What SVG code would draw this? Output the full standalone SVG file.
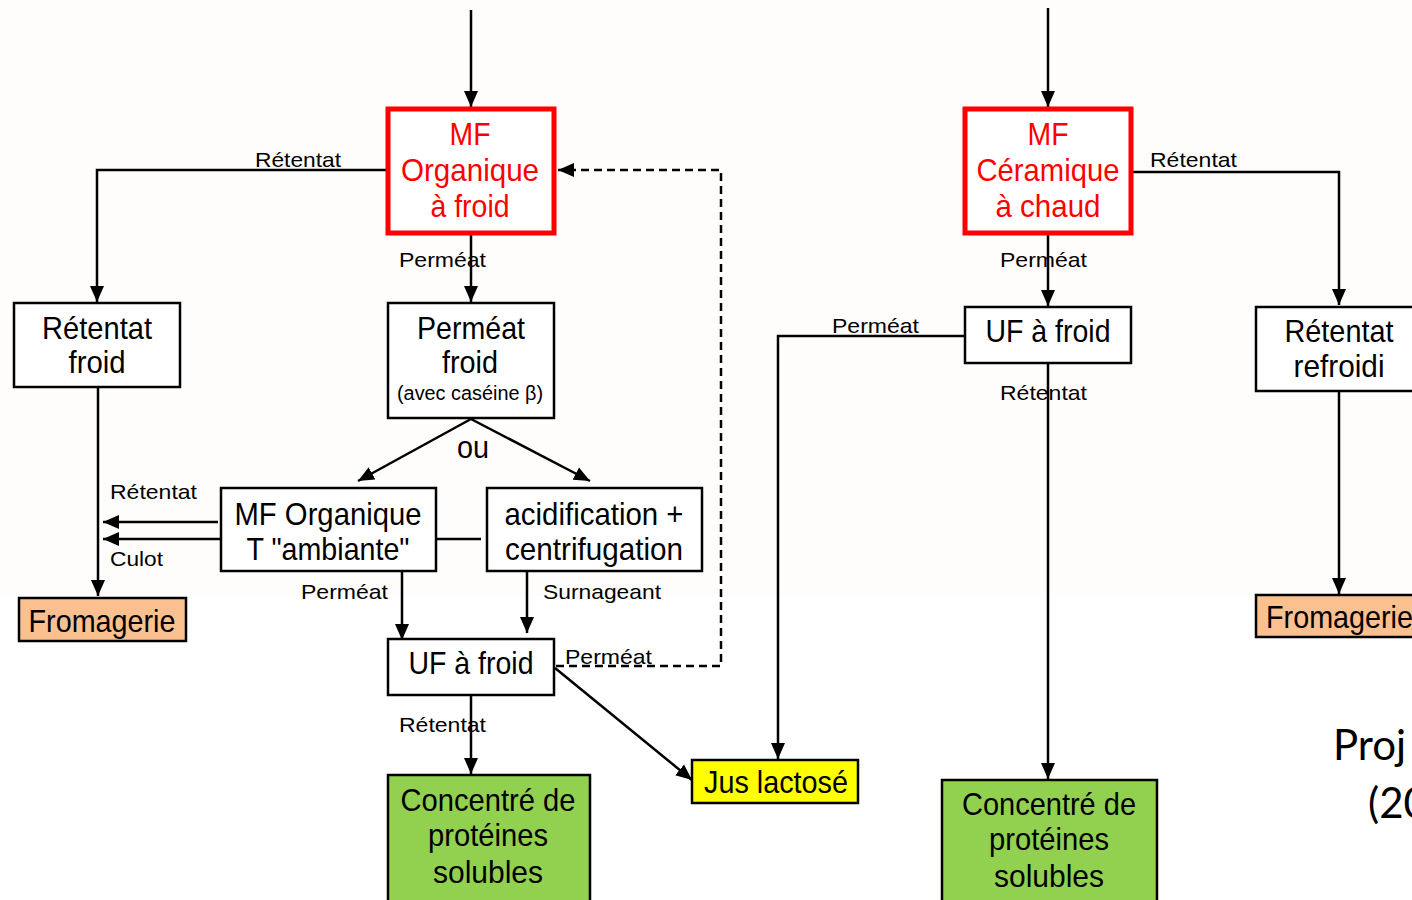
<svg xmlns="http://www.w3.org/2000/svg" width="1412" height="900" viewBox="0 0 1412 900">
  <style>
    .box { fill: #ffffff; stroke: #000000; stroke-width: 2.5; }
    .mf { fill: #ffffff; stroke: #ff0000; stroke-width: 5; }
    .fromage { fill: #fac090; stroke: #000000; stroke-width: 2.5; }
    .conc { fill: #92d050; stroke: #000000; stroke-width: 2.5; }
    .jus { fill: #ffff00; stroke: #000000; stroke-width: 2.5; }
    .big { font-family: "Liberation Sans", Arial, sans-serif; font-size: 32px; fill: #000000; text-anchor: middle; }
    .red { fill: #ff0000; }
    .small { font-family: "Liberation Sans", Arial, sans-serif; font-size: 21px; fill: #000000; }
    .note { font-family: "Liberation Sans", Arial, sans-serif; font-size: 20px; fill: #000000; text-anchor: middle; }
    .title { font-family: Lato, "Open Sans", sans-serif; font-size: 42px; fill: #000000; }
    .flow { fill: none; stroke: #000000; stroke-width: 2.5; }
    .arrow { marker-end: url(#head); }
    .dash { stroke-dasharray: 8 5; }
  </style>
  <defs>
    <marker id="head" viewBox="0 0 16 14" refX="16" refY="7" markerWidth="16" markerHeight="15" markerUnits="userSpaceOnUse" orient="auto">
      <path d="M0,0 L16,7 L0,14 z" fill="#000000"/>
    </marker>
  </defs>

  <!-- faint upper background band -->
  <rect x="0" y="0" width="1412" height="596" fill="#fefdfb"/>

  <!-- connectors -->
  <g id="connectors">
    <!-- left process -->
    <line class="flow arrow" x1="471" y1="10" x2="471" y2="107"/>
    <polyline class="flow arrow" points="387,170 97,170 97,302"/>
    <line class="flow arrow" x1="471" y1="234" x2="471" y2="302"/>
    <line class="flow arrow" x1="471" y1="419" x2="358" y2="481"/>
    <line class="flow arrow" x1="471" y1="419" x2="590" y2="481"/>
    <line class="flow arrow" x1="98" y1="387" x2="98" y2="596"/>
    <line class="flow arrow" x1="218" y1="522" x2="103" y2="522"/>
    <line class="flow arrow" x1="221" y1="539" x2="103" y2="539"/>
    <line class="flow" x1="437" y1="539" x2="481" y2="539"/>
    <line class="flow arrow" x1="402" y1="571" x2="402" y2="640"/>
    <line class="flow arrow" x1="527" y1="571" x2="527" y2="633"/>
    <polyline class="flow dash arrow" points="556,666 721,666 721,170 558,170"/>
    <line class="flow arrow" x1="555" y1="668" x2="692" y2="780"/>
    <line class="flow arrow" x1="471" y1="695" x2="471" y2="774"/>

    <!-- right process -->
    <line class="flow arrow" x1="1048" y1="8" x2="1048" y2="107"/>
    <polyline class="flow arrow" points="1132,172 1339,172 1339,305"/>
    <line class="flow arrow" x1="1048" y1="234" x2="1048" y2="306"/>
    <polyline class="flow arrow" points="965,336 778,336 778,759"/>
    <line class="flow arrow" x1="1048" y1="363" x2="1048" y2="779"/>
    <line class="flow arrow" x1="1339" y1="391" x2="1339" y2="594"/>

    <!-- connector labels -->
    <text class="small" x="255" y="167" textLength="86" lengthAdjust="spacingAndGlyphs">Rétentat</text>
    <text class="small" x="399" y="267" textLength="87" lengthAdjust="spacingAndGlyphs">Perméat</text>
    <text class="small" x="110" y="499" textLength="87" lengthAdjust="spacingAndGlyphs">Rétentat</text>
    <text class="small" x="110" y="566" textLength="53" lengthAdjust="spacingAndGlyphs">Culot</text>
    <text class="small" x="301" y="599" textLength="87" lengthAdjust="spacingAndGlyphs">Perméat</text>
    <text class="small" x="543" y="599" textLength="118" lengthAdjust="spacingAndGlyphs">Surnageant</text>
    <text class="small" x="565" y="664" textLength="87" lengthAdjust="spacingAndGlyphs">Perméat</text>
    <text class="small" x="399" y="732" textLength="87" lengthAdjust="spacingAndGlyphs">Rétentat</text>
    <text class="small" x="1150" y="167" textLength="87" lengthAdjust="spacingAndGlyphs">Rétentat</text>
    <text class="small" x="1000" y="267" textLength="87" lengthAdjust="spacingAndGlyphs">Perméat</text>
    <text class="small" x="832" y="333" textLength="87" lengthAdjust="spacingAndGlyphs">Perméat</text>
    <text class="small" x="1000" y="400" textLength="87" lengthAdjust="spacingAndGlyphs">Rétentat</text>
    <text class="big" x="473" y="458" textLength="32" lengthAdjust="spacingAndGlyphs">ou</text>
  </g>

  <!-- left process nodes -->
  <g id="mf-organique-froid">
    <rect class="mf" x="388" y="109" width="166" height="124"/>
    <text class="big red" x="470" y="145" textLength="41" lengthAdjust="spacingAndGlyphs">MF</text>
    <text class="big red" x="470" y="181" textLength="138" lengthAdjust="spacingAndGlyphs">Organique</text>
    <text class="big red" x="470" y="217" textLength="79" lengthAdjust="spacingAndGlyphs">à froid</text>
  </g>

  <g id="retentat-froid">
    <rect class="box" x="14" y="303" width="166" height="84"/>
    <text class="big" x="97" y="339" textLength="110" lengthAdjust="spacingAndGlyphs">Rétentat</text>
    <text class="big" x="97" y="373" textLength="57" lengthAdjust="spacingAndGlyphs">froid</text>
  </g>

  <g id="permeat-froid">
    <rect class="box" x="388" y="303" width="166" height="115"/>
    <text class="big" x="471" y="339" textLength="108" lengthAdjust="spacingAndGlyphs">Perméat</text>
    <text class="big" x="470" y="373" textLength="56" lengthAdjust="spacingAndGlyphs">froid</text>
    <text class="note" x="470" y="400" textLength="146" lengthAdjust="spacingAndGlyphs">(avec caséine β)</text>
  </g>

  <g id="mf-organique-ambiante">
    <rect class="box" x="221" y="488" width="215" height="83"/>
    <text class="big" x="328" y="525" textLength="187" lengthAdjust="spacingAndGlyphs">MF Organique</text>
    <text class="big" x="328" y="560" textLength="163" lengthAdjust="spacingAndGlyphs">T "ambiante"</text>
  </g>

  <g id="acidification">
    <rect class="box" x="487" y="488" width="215" height="83"/>
    <text class="big" x="594" y="525" textLength="179" lengthAdjust="spacingAndGlyphs">acidification +</text>
    <text class="big" x="594" y="560" textLength="178" lengthAdjust="spacingAndGlyphs">centrifugation</text>
  </g>

  <g id="fromagerie-gauche">
    <rect class="fromage" x="19" y="598" width="167" height="43"/>
    <text class="big" x="102" y="632" textLength="147" lengthAdjust="spacingAndGlyphs">Fromagerie</text>
  </g>

  <g id="uf-froid-gauche">
    <rect class="box" x="388" y="639" width="166" height="56"/>
    <text class="big" x="471" y="674" textLength="125" lengthAdjust="spacingAndGlyphs">UF à froid</text>
  </g>

  <g id="concentre-gauche">
    <rect class="conc" x="388" y="775" width="202" height="135"/>
    <text class="big" x="488" y="811" textLength="175" lengthAdjust="spacingAndGlyphs">Concentré de</text>
    <text class="big" x="488" y="846" textLength="120" lengthAdjust="spacingAndGlyphs">protéines</text>
    <text class="big" x="488" y="883" textLength="110" lengthAdjust="spacingAndGlyphs">solubles</text>
  </g>

  <g id="jus-lactose">
    <rect class="jus" x="692" y="760" width="166" height="43"/>
    <text class="big" x="776" y="793" textLength="144" lengthAdjust="spacingAndGlyphs">Jus lactosé</text>
  </g>

  <!-- right process nodes -->
  <g id="mf-ceramique-chaud">
    <rect class="mf" x="965" y="109" width="166" height="124"/>
    <text class="big red" x="1048" y="145" textLength="41" lengthAdjust="spacingAndGlyphs">MF</text>
    <text class="big red" x="1048" y="181" textLength="143" lengthAdjust="spacingAndGlyphs">Céramique</text>
    <text class="big red" x="1048" y="217" textLength="105" lengthAdjust="spacingAndGlyphs">à chaud</text>
  </g>

  <g id="uf-froid-droite">
    <rect class="box" x="965" y="307" width="166" height="56"/>
    <text class="big" x="1048" y="342" textLength="125" lengthAdjust="spacingAndGlyphs">UF à froid</text>
  </g>

  <g id="retentat-refroidi">
    <rect class="box" x="1256" y="307" width="170" height="84"/>
    <text class="big" x="1339" y="342" textLength="109" lengthAdjust="spacingAndGlyphs">Rétentat</text>
    <text class="big" x="1339" y="377" textLength="91" lengthAdjust="spacingAndGlyphs">refroidi</text>
  </g>

  <g id="fromagerie-droite">
    <rect class="fromage" x="1256" y="595" width="170" height="42"/>
    <text class="big" x="1266" y="628" style="text-anchor:start" textLength="147" lengthAdjust="spacingAndGlyphs">Fromagerie</text>
  </g>

  <g id="concentre-droite">
    <rect class="conc" x="942" y="780" width="215" height="130"/>
    <text class="big" x="1049" y="815" textLength="174" lengthAdjust="spacingAndGlyphs">Concentré de</text>
    <text class="big" x="1049" y="850" textLength="120" lengthAdjust="spacingAndGlyphs">protéines</text>
    <text class="big" x="1049" y="887" textLength="110" lengthAdjust="spacingAndGlyphs">solubles</text>
  </g>

  <!-- side caption at the right edge -->
  <g id="caption">
    <text class="title" x="1333" y="760">Proj</text>
    <text class="title" x="1368" y="818">(20</text>
  </g>
</svg>
